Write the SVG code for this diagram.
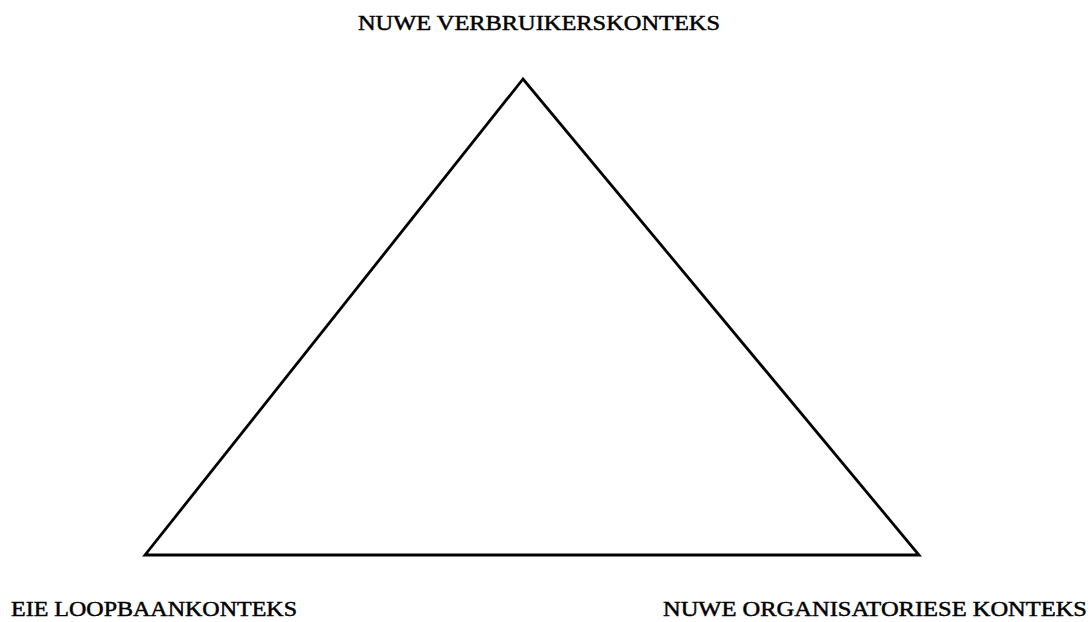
<svg xmlns="http://www.w3.org/2000/svg" width="1092" height="622" viewBox="0 0 1092 622">
  <style>
    .lbl { font-family: "Liberation Serif", "Times New Roman", serif; font-size: 20px; fill: #000; stroke: #000; stroke-width: 0.45; }
    .edge { fill: none; stroke: #000; stroke-width: 2.8; stroke-linejoin: miter; }
  </style>
  <rect width="1092" height="622" fill="#fff"/>
  <g id="connectors">
    <polygon class="edge" points="523,79 145,555 919,555"/>
  </g>
  <g id="node-consumer">
    <text class="lbl" x="358" y="30" textLength="362" lengthAdjust="spacingAndGlyphs">NUWE VERBRUIKERSKONTEKS</text>
  </g>
  <g id="node-career">
    <text class="lbl" x="11" y="616" textLength="286" lengthAdjust="spacingAndGlyphs">EIE LOOPBAANKONTEKS</text>
  </g>
  <g id="node-organisation">
    <text class="lbl" x="663" y="616" textLength="424" lengthAdjust="spacingAndGlyphs">NUWE ORGANISATORIESE KONTEKS</text>
  </g>
</svg>
